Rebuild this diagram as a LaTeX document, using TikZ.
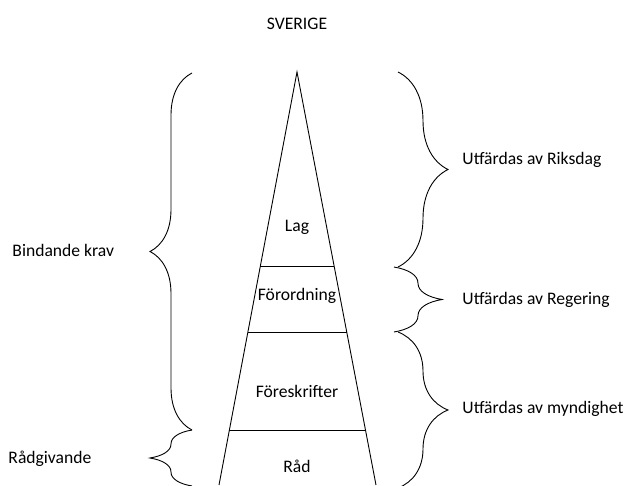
\documentclass[tikz,border=0pt]{standalone}
\usepackage{fontspec}
\setmainfont{Carlito}
\usetikzlibrary{calc}
\usetikzlibrary{positioning}
\usetikzlibrary{decorations.pathreplacing}

\begin{document}
\begin{tikzpicture}[x=1pt,y=-1pt,inner sep=0pt,line width=.9pt,
  font=\fontsize{17.6}{20}\selectfont,
  lbl/.style={anchor=base},
  brc/.style={decorate,decoration={brace,amplitude=#1}}]%
\useasboundingbox (0,0) rectangle (629,485);
% pyramid
\coordinate (Top) at (297,72);
\coordinate (BL)  at (219,485);
\coordinate (BR)  at (376,485);
\coordinate (L1) at ($ (Top)!0.472!(BL) $);  \coordinate (R1) at ($ (Top)!0.472!(BR) $);
\coordinate (L2) at ($ (Top)!0.6295!(BL) $); \coordinate (R2) at ($ (Top)!0.6295!(BR) $);
\coordinate (L3) at ($ (Top)!0.867!(BL) $);  \coordinate (R3) at ($ (Top)!0.867!(BR) $);
\draw (BL) -- (Top) -- (BR);
\draw (L1) -- (R1);
\draw (L2) -- (R2);
\draw (L3) -- (R3);
\node [lbl] (sverige) at (297,29) {SVERIGE};
\node [lbl] (lag)  at (297,231) {Lag};
\node [lbl] (forord) at (297,300) {Förordning};
\node [lbl] (foresk) at (297,397) {Föreskrifter};
\node [lbl] (rad)  at (297,472) {Råd};
% braces left
\coordinate (BkBot) at (192,430); \coordinate (BkTop) at (192,73);
\coordinate (RgBot) at (192,486);
\draw [brc=42pt] (BkBot) -- (BkTop);
\draw [brc=42pt] (RgBot) -- (BkBot);
\node [lbl,anchor=base west] (bindande) at (12,256) {Bindande krav};
\node [lbl,anchor=base west] (radgiv)   at (8,463) {Rådgivande};
% braces right
\coordinate (Rk1) at (398,72);  \coordinate (Rk2) at (398,267);
\coordinate (Rg1) at (394,267); \coordinate (Rg2) at (394,332);
\coordinate (My1) at (398,332); \coordinate (My2) at (398,488);
\draw [brc=50pt] (Rk1) -- (Rk2);
\draw [brc=48pt] (Rg1) -- (Rg2);
\draw [brc=50pt] (My1) -- (My2);
\node [lbl,anchor=base west] (riksdag)   at (462,164) {Utfärdas av Riksdag};
\node [lbl,anchor=base west] (regering)  at (462,304) {Utfärdas av Regering};
\node [lbl,anchor=base west] (myndighet) at (462,413) {Utfärdas av myndighet};
\end{tikzpicture}
\end{document}
